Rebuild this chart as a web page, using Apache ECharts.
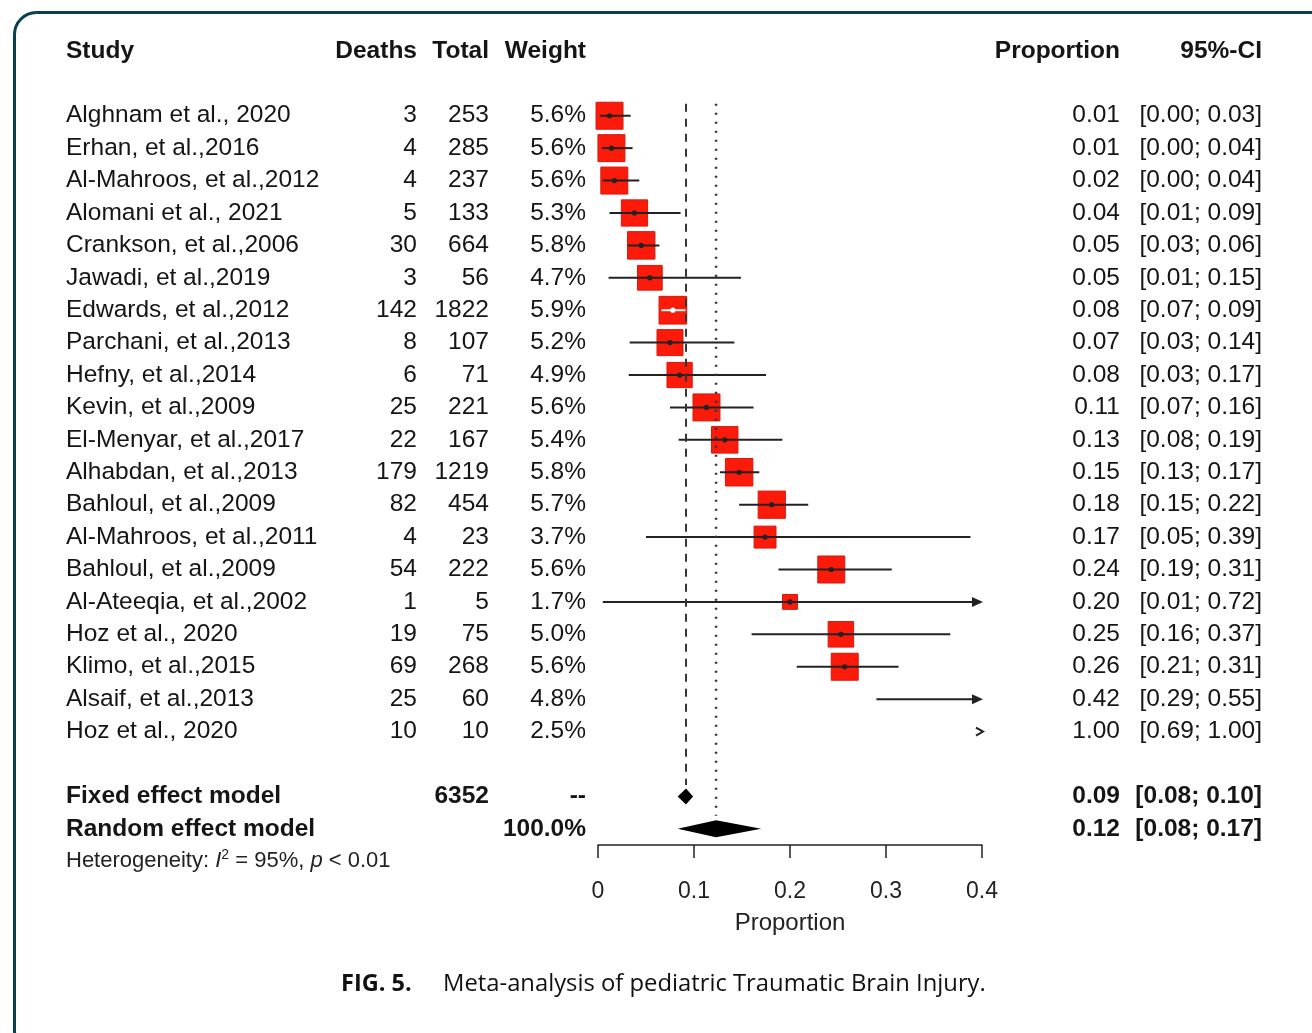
<!DOCTYPE html>
<html>
<head>
<meta charset="utf-8">
<title>Meta-analysis of pediatric Traumatic Brain Injury</title>
<script src="https://cdn.jsdelivr.net/npm/echarts@6/dist/echarts.min.js"></script>
<style>
  html, body { margin: 0; padding: 0; background: #fff; }
  #chart { width: 1312px; height: 1033px; }
</style>
</head>
<body>
<div id="chart"></div>
<script>
// rows of the forest plot, top to bottom
const studies = [
  "Alghnam et al., 2020", "Erhan, et al.,2016", "Al-Mahroos, et al.,2012", "Alomani et al., 2021",
  "Crankson, et al.,2006", "Jawadi, et al.,2019", "Edwards, et al.,2012", "Parchani, et al.,2013",
  "Hefny, et al.,2014", "Kevin, et al.,2009", "El-Menyar, et al.,2017", "Alhabdan, et al.,2013",
  "Bahloul, et al.,2009", "Al-Mahroos, et al.,2011", "Bahloul, et al.,2009", "Al-Ateeqia, et al.,2002",
  "Hoz et al., 2020", "Klimo, et al.,2015", "Alsaif, et al.,2013", "Hoz et al., 2020"
];
const deaths = [3, 4, 4, 5, 30, 3, 142, 8, 6, 25, 22, 179, 82, 4, 54, 1, 19, 69, 25, 10];
const totals = [253, 285, 237, 133, 664, 56, 1822, 107, 71, 221, 167, 1219, 454, 23, 222, 5, 75, 268, 60, 10];
const weights = [5.6, 5.6, 5.6, 5.3, 5.8, 4.7, 5.9, 5.2, 4.9, 5.6, 5.4, 5.8, 5.7, 3.7, 5.6, 1.7, 5.0, 5.6, 4.8, 2.5];
const proportions = [0.012, 0.014, 0.017, 0.038, 0.045, 0.054, 0.078, 0.075, 0.085, 0.113,
  0.132, 0.147, 0.181, 0.174, 0.243, 0.200, 0.253, 0.257, 0.417, 1.000];
const ciLower = [0.002, 0.004, 0.005, 0.012, 0.031, 0.011, 0.066, 0.033, 0.032, 0.075,
  0.084, 0.127, 0.147, 0.050, 0.188, 0.005, 0.160, 0.207, 0.290, 0.692];
const ciUpper = [0.034, 0.036, 0.043, 0.086, 0.064, 0.149, 0.091, 0.142, 0.175, 0.162,
  0.192, 0.168, 0.219, 0.388, 0.306, 0.716, 0.367, 0.313, 0.552, 1.000];
const propLabels = ["0.01", "0.01", "0.02", "0.04", "0.05", "0.05", "0.08", "0.07", "0.08", "0.11",
  "0.13", "0.15", "0.18", "0.17", "0.24", "0.20", "0.25", "0.26", "0.42", "1.00"];
const ciLabels = ["[0.00; 0.03]", "[0.00; 0.04]", "[0.00; 0.04]", "[0.01; 0.09]", "[0.03; 0.06]",
  "[0.01; 0.15]", "[0.07; 0.09]", "[0.03; 0.14]", "[0.03; 0.17]", "[0.07; 0.16]",
  "[0.08; 0.19]", "[0.13; 0.17]", "[0.15; 0.22]", "[0.05; 0.39]", "[0.19; 0.31]",
  "[0.01; 0.72]", "[0.16; 0.37]", "[0.21; 0.31]", "[0.29; 0.55]", "[0.69; 1.00]"];

// pooled models: estimate, lower, upper
const fixedModel = [0.0917, 0.083, 0.099];
const randomModel = [0.123, 0.083, 0.170];
const fixedLabels = ["0.09", "[0.08; 0.10]"];
const randomLabels = ["0.12", "[0.08; 0.17]"];
const fixedTotal = "6352";

const FONT = '"Liberation Sans", Arial, Helvetica, sans-serif';
const X_MAX = 0.4;
const ROW_FIXED = 22, ROW_RANDOM = 23;
// x pixel of each table column (study is left aligned, the rest right aligned)
const COLS = [66, 417, 489, 586, 1120, 1262];

const tableRows = [
  { row: -1, bold: true, cells: ["Study", "Deaths", "Total", "Weight", "Proportion", "95%-CI"] },
  ...studies.map((s, i) => ({
    row: i + 1,
    cells: [s, String(deaths[i]), String(totals[i]), weights[i].toFixed(1) + "%", propLabels[i], ciLabels[i]]
  })),
  { row: ROW_FIXED, bold: true, cells: ["Fixed effect model", "", fixedTotal, "--", fixedLabels[0], fixedLabels[1]] },
  { row: ROW_RANDOM, bold: true, cells: ["Random effect model", "", "", "100.0%", randomLabels[0], randomLabels[1]] }
];

function renderTable(params, api) {
  const r = tableRows[params.dataIndex];
  const y = api.coord([0, r.row])[1];
  return {
    type: "group",
    children: r.cells.map((c, k) => ({
      type: "text",
      style: {
        x: COLS[k], y: y, text: c,
        align: k === 0 ? "left" : "right", verticalAlign: "middle",
        fontFamily: FONT, fontSize: 24.5, fontWeight: r.bold ? "bold" : "normal",
        fill: "#151515"
      }
    }))
  };
}

function renderStudy(params, api) {
  const i = params.dataIndex;
  const row = i + 1;
  const clamp = v => Math.min(Math.max(v, 0), X_MAX);
  const px = v => api.coord([clamp(v), row])[0];
  const y = api.coord([0, row])[1];
  const xEnd = px(X_MAX) + 1;
  const children = [];
  const lo = ciLower[i], hi = ciUpper[i], est = proportions[i];

  if (lo >= X_MAX) {
    children.push({
      type: "polyline",
      shape: { points: [[xEnd - 7, y - 4], [xEnd, y], [xEnd - 7, y + 4]] },
      style: { stroke: "#222", lineWidth: 2, fill: null }
    });
    return { type: "group", children };
  }

  const x1 = px(lo), x2 = px(hi);
  let inside = false;
  if (est <= X_MAX) {
    const cx = px(est);
    const side = 11.4 * Math.sqrt(weights[i]);
    inside = x1 >= cx - side / 2 && x2 <= cx + side / 2;
    children.push({
      type: "rect",
      shape: { x: cx - side / 2, y: y - side / 2, width: side, height: side },
      style: { fill: "#fc1a0a", stroke: "#d8170a", lineWidth: 1 }
    });
  }
  const lineColor = inside ? "#ffffff" : "#222";
  children.push({
    type: "line",
    shape: { x1: x1, y1: y, x2: hi > X_MAX ? xEnd - 6 : x2, y2: y },
    style: { stroke: lineColor, lineWidth: 2 }
  });
  if (hi > X_MAX) {
    children.push({
      type: "polygon",
      shape: { points: [[xEnd, y], [xEnd - 11, y - 5], [xEnd - 11, y + 5]] },
      style: { fill: "#222" }
    });
  }
  if (est <= X_MAX) {
    children.push({
      type: "circle",
      shape: { cx: px(est), cy: y, r: 2.6 },
      style: { fill: lineColor }
    });
  }
  return { type: "group", children };
}

function renderDiamond(params, api) {
  const m = params.dataIndex === 0 ? fixedModel : randomModel;
  const row = params.dataIndex === 0 ? ROW_FIXED : ROW_RANDOM;
  const half = params.dataIndex === 0 ? 8 : 8.5;
  const y = api.coord([0, row])[1];
  const xl = api.coord([m[1], row])[0];
  const xc = api.coord([m[0], row])[0];
  const xr = api.coord([m[2], row])[0];
  return {
    type: "polygon",
    shape: { points: [[xl, y], [xc, y - half], [xr, y], [xc, y + half]] },
    style: { fill: "#000" }
  };
}

function renderHetero(params, api) {
  const y = api.coord([0, 24])[1];
  return {
    type: "text",
    style: {
      x: 66, y: y,
      text: "{a|Heterogeneity: }{i|I}{s|2}{a| = 95%, }{i|p}{a| < 0.01}",
      verticalAlign: "middle",
      rich: {
        a: { fontFamily: FONT, fontSize: 22, fill: "#222", lineHeight: 26 },
        i: { fontFamily: FONT, fontSize: 22, fontStyle: "italic", fill: "#222", lineHeight: 26 },
        s: { fontFamily: FONT, fontSize: 14, fill: "#222", lineHeight: 14, verticalAlign: "top" }
      }
    }
  };
}

const chart = echarts.init(document.getElementById("chart"));
chart.setOption({
  backgroundColor: "#fff",
  animation: false,
  grid: { left: 598, width: 384, top: 18.5, height: 826.5 },
  xAxis: {
    type: "value", min: 0, max: X_MAX, interval: 0.1,
    axisLine: { show: true, onZero: false, lineStyle: { color: "#222", width: 1.5 } },
    axisTick: { show: true, length: 13, lineStyle: { color: "#222", width: 1.5 } },
    axisLabel: {
      fontFamily: FONT, fontSize: 23, color: "#222", margin: 35,
      formatter: v => (v === 0 ? "0" : v.toFixed(1))
    },
    splitLine: { show: false },
    name: "Proportion", nameLocation: "middle", nameGap: 66,
    nameTextStyle: { fontFamily: FONT, fontSize: 24, color: "#222" }
  },
  yAxis: { type: "value", inverse: true, min: -2, max: 23.5, show: false },
  graphic: [
    {
      type: "rect", left: 12, top: 10, silent: true,
      shape: { width: 1320, height: 1040, r: 22 },
      style: { fill: null, stroke: "#0b3f4d", lineWidth: 3 }
    },
    {
      type: "text", left: 341, top: 972,
      style: { text: "FIG. 5.", fontFamily: '"Open Sans", sans-serif', fontSize: 23.5, fontWeight: "bold", fill: "#111" }
    },
    {
      type: "text", left: 443, top: 972,
      style: { text: "Meta-analysis of pediatric Traumatic Brain Injury.", fontFamily: '"Open Sans", sans-serif', fontSize: 23.8, fill: "#111" }
    }
  ],
  series: [
    {
      type: "line", silent: true, symbol: "none",
      data: [[fixedModel[0], 0.63], [fixedModel[0], 21.65]],
      lineStyle: { color: "#333", width: 2, type: [8, 7] }
    },
    {
      type: "line", silent: true, symbol: "none",
      data: [[randomModel[0], 0.63], [randomModel[0], 22.6]],
      lineStyle: { color: "#333", width: 2.5, type: [2, 7] }
    },
    {
      type: "custom", silent: true, renderItem: renderStudy,
      data: proportions.map((p, i) => [p, i + 1])
    },
    {
      type: "custom", silent: true, renderItem: renderDiamond,
      data: [[fixedModel[0], ROW_FIXED], [randomModel[0], ROW_RANDOM]]
    },
    {
      type: "custom", silent: true, renderItem: renderTable,
      data: tableRows.map(r => [0, r.row])
    },
    {
      type: "custom", silent: true, renderItem: renderHetero,
      data: [[0, 24]]
    }
  ]
});
</script>
</body>
</html>
